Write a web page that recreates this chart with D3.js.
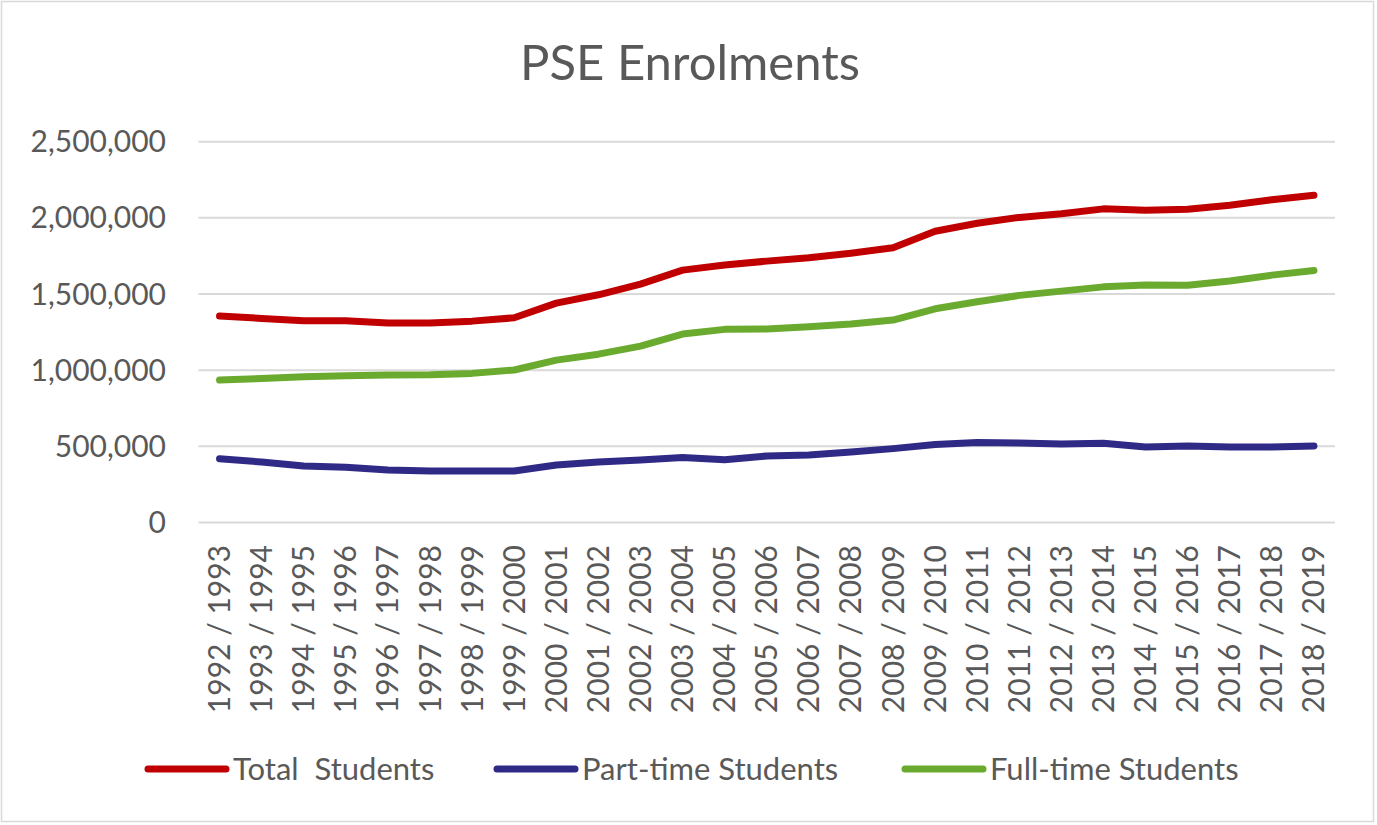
<!DOCTYPE html>
<html>
<head>
<meta charset="utf-8">
<script src="https://cdn.jsdelivr.net/npm/d3@7"></script>
<style>
  body { margin: 0; background: #fff; }
  svg { display: block; font-family: Lato, "Open Sans", sans-serif; }
</style>
</head>
<body>
<svg id="chart" width="1377" height="825"></svg>
<script>
const years = [
    "1992 / 1993", "1993 / 1994", "1994 / 1995", "1995 / 1996", "1996 / 1997",
    "1997 / 1998", "1998 / 1999", "1999 / 2000", "2000 / 2001", "2001 / 2002",
    "2002 / 2003", "2003 / 2004", "2004 / 2005", "2005 / 2006", "2006 / 2007",
    "2007 / 2008", "2008 / 2009", "2009 / 2010", "2010 / 2011", "2011 / 2012",
    "2012 / 2013", "2013 / 2014", "2014 / 2015", "2015 / 2016", "2016 / 2017",
    "2017 / 2018", "2018 / 2019"
];

const totalStudents = [
    1355000, 1340000, 1325000, 1324000, 1310000, 1309000, 1322000, 1344000, 1440000,
    1495000, 1565000, 1657000, 1690000, 1716000, 1738000, 1768000, 1804000, 1912000,
    1965000, 2003000, 2027000, 2059000, 2050000, 2057000, 2083000, 2119000, 2149000
];

const partTimeStudents = [
    419000, 397000, 371000, 362000, 344000, 338000, 338000, 338000, 377000,
    397000, 410000, 426000, 412000, 437000, 443000, 463000, 485000, 512000,
    525000, 522000, 515000, 520000, 496000, 502000, 495000, 495000, 502000
];

const fullTimeStudents = [
    935000, 946000, 957000, 963000, 968000, 970000, 979000, 1001000, 1066000,
    1105000, 1158000, 1237000, 1268000, 1270000, 1285000, 1303000, 1329000, 1403000,
    1449000, 1491000, 1519000, 1547000, 1560000, 1558000, 1585000, 1624000, 1655000
];

const yTicks = [0, 500000, 1000000, 1500000, 2000000, 2500000];

const series = [
    { name: "Total  Students", values: totalStudents, color: "#c00000" },
    { name: "Part-time Students", values: partTimeStudents, color: "#2f2a85" },
    { name: "Full-time Students", values: fullTimeStudents, color: "#6aab2f" }
];

const svg = d3.select("#chart");
const textColor = "#595959";

// outer frame
svg.append("rect")
    .attr("x", 1.5).attr("y", 1.5)
    .attr("width", 1372).attr("height", 820)
    .style("fill", "#fff")
    .style("stroke", "#d9d9d9")
    .style("stroke-width", 1.5);

const x = d3.scaleBand()
    .domain(years)
    .range([198.5, 1335])
    .padding(0);

const y = d3.scaleLinear()
    .domain([0, 2500000])
    .range([522.5, 141.7]);

const fmt = d3.format(",");

// gridlines
svg.append("g")
    .selectAll("line")
    .data(yTicks)
    .join("line")
    .attr("x1", 198.5)
    .attr("x2", 1335)
    .attr("y1", d => y(d))
    .attr("y2", d => y(d))
    .style("stroke", "#d9d9d9")
    .style("stroke-width", 2);

// y axis labels
svg.append("g")
    .selectAll("text")
    .data(yTicks)
    .join("text")
    .attr("x", 166)
    .attr("y", d => y(d))
    .attr("dy", "0.35em")
    .attr("text-anchor", "end")
    .style("font-size", "30px")
    .style("fill", textColor)
    .text(d => fmt(d));

// x axis labels (rotated)
svg.append("g")
    .selectAll("text")
    .data(years)
    .join("text")
    .attr("transform", d => `translate(${x(d) + x.bandwidth() / 2},545) rotate(-90)`)
    .attr("dy", "0.35em")
    .attr("text-anchor", "end")
    .style("font-size", "30px")
    .style("fill", textColor)
    .text(d => d);

const line = d3.line()
    .x((d, i) => x(years[i]) + x.bandwidth() / 2)
    .y(d => y(d));

svg.append("g")
    .selectAll("path")
    .data(series)
    .join("path")
    .attr("d", d => line(d.values))
    .style("fill", "none")
    .style("stroke", d => d.color)
    .style("stroke-width", 7)
    .style("stroke-linecap", "round")
    .style("stroke-linejoin", "round");

// title
svg.append("text")
    .attr("x", 690)
    .attr("y", 80)
    .attr("text-anchor", "middle")
    .style("font-size", "49px")
    .style("fill", textColor)
    .text("PSE Enrolments");

// legend
const legendX = [148, 497, 905];
const legend = svg.append("g")
    .selectAll("g")
    .data(series)
    .join("g")
    .attr("transform", (d, i) => `translate(${legendX[i]},769)`);

legend.append("line")
    .attr("x1", 0).attr("x2", 78)
    .attr("y1", 0).attr("y2", 0)
    .style("stroke", d => d.color)
    .style("stroke-width", 7)
    .style("stroke-linecap", "round");

legend.append("text")
    .attr("x", 85)
    .attr("dy", "0.35em")
    .style("font-size", "31px")
    .style("fill", textColor)
    .style("white-space", "pre")
    .text(d => d.name);
</script>
</body>
</html>
